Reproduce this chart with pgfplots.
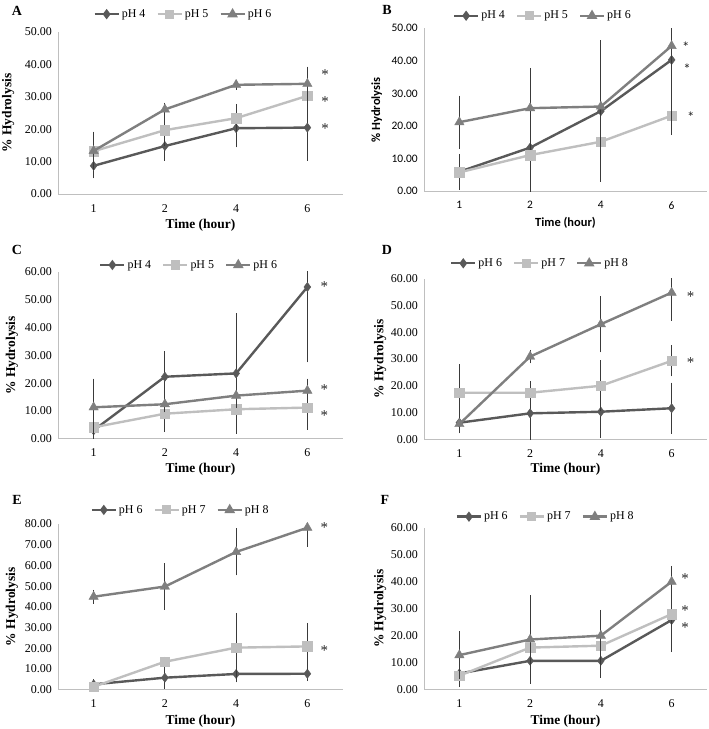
\documentclass[border=0pt]{standalone}
\usepackage{fontspec}
\setmainfont{Liberation Serif}
\newfontfamily\calibri{Carlito}
\usepackage{pgfplots}
\pgfplotsset{compat=1.18}
\definecolor{sA}{HTML}{595959}
\definecolor{sB}{HTML}{BFBFBF}
\definecolor{sC}{HTML}{7F7F7F}
\definecolor{axg}{HTML}{BFBFBF}
\definecolor{eb}{HTML}{3A3A3A}
\tikzset{astk/.style={font=\fontsize{15}{16}\selectfont, text=black!85, yshift=-3bp}}
\pgfplotsset{
 panel/.style={
  scale only axis, anchor=south west,
  xmin=-0.5, xmax=3.5, ymin=0,
  xtick={0,1,2,3}, xticklabels={1,2,4,6},
  axis x line=bottom, axis y line=left,
  axis line style={draw=axg, line width=0.8bp, -},
  major tick length=0pt, tick style={draw=none},
  /pgf/number format/assume math mode=true,
  yticklabel style={/pgf/number format/fixed, /pgf/number format/fixed zerofill, /pgf/number format/precision=2},
  yticklabel style={anchor=east, inner sep=0pt, xshift=-6bp},
  xticklabel style={anchor=north, inner sep=0pt, yshift=-10bp},
  tick label style={font=\fontsize{12}{14}\selectfont},
  label style={font=\bfseries\fontsize{13.5}{15}\selectfont},
  ylabel style={at={(axis description cs:-0.17,0.5)}, anchor=center},
  xlabel style={at={(axis description cs:0.5,-0.19)}, anchor=center},
  ylabel={\% Hydrolysis}, xlabel={Time (hour)},
  clip mode=individual,
  legend columns=3,
  legend cell align=left,
  legend style={draw=none, fill=none, font=\rmfamily\fontsize{12}{14}\selectfont, anchor=center, inner sep=0pt,
     /tikz/every even column/.append style={column sep=9bp}},
  legend image code/.code={\draw[##1, mark repeat=2, mark phase=2, mark options={scale=0.7}] plot coordinates {(0bp,0bp) (12bp,0bp) (24bp,0bp)};},
 },
 ebars/.style={error bars/.cd, y dir=both, y explicit,
   error bar style={line width=0.9bp, color=eb, solid},
   error mark options={line width=0.9bp, color=eb, mark size=3.2bp}},
 s1/.style={color=sA, line width=2.4bp, mark=diamond*, mark size=4.6bp, mark options={line width=0.4bp}, ebars},
 s2/.style={color=sB, line width=2.4bp, mark=square*, mark size=4.8bp, mark options={line width=0.4bp}, ebars},
 s3/.style={color=sC, line width=2.4bp, mark=triangle*, mark size=5.4bp, mark options={line width=0.4bp}, ebars},
}
\begin{document}
\begin{tikzpicture}
\useasboundingbox (0,0) rectangle (709bp,729bp);
\tikzset{plab/.style={font=\bfseries\fontsize{14}{16}\selectfont}}
\node[plab] at (17bp,718bp) {A};
\node[plab] at (387bp,719bp) {B};
\node[plab] at (17bp,479bp) {C};
\node[plab] at (387bp,479bp) {D};
\node[plab] at (17bp,229bp) {E};
\node[plab] at (385bp,229bp) {F};

% Panel A
\begin{axis}[panel, at={(58bp,535bp)}, width=285bp, height=162bp,
  ymax=50, ytick={0,10,...,50},
  ylabel style={at={(axis description cs:-0.175,0.5)}},
  legend style={at={(0.44,1.11)}}]
\addplot[s1] coordinates {(0,8.7)+-(0,2.9) (1,14.8)+-(0,3.6) (2,20.3)+-(0,4.9) (3,20.5)+-(0,9.3)};
\addplot[s2] coordinates {(0,13.2)+-(0,1.0) (1,19.7)+-(0,3.9) (2,23.4)+-(0,3.4) (3,30.3)+-(0,3.6)};
\addplot[s3] coordinates {(0,13.3)+-(0,5.0) (1,26.1)+-(0,1.1) (2,33.7)+-(0,0.5) (3,34.0)+-(0,4.3)};
\legend{pH 4,pH 5,pH 6}
\node[astk] at (axis cs:3.25,37.7) {*};
\node[astk] at (axis cs:3.25,29.3) {*};
\node[astk] at (axis cs:3.25,21.1) {*};
\end{axis}

% Panel B
\begin{axis}[panel, at={(424bp,537.7bp)}, width=283bp, height=163bp,
  ymax=50, ytick={0,10,...,50},
  tick label style={font=\calibri\fontsize{11.5}{13}\selectfont},
  label style={font=\calibri\bfseries\fontsize{12.5}{14}\selectfont},
  ylabel style={at={(axis description cs:-0.167,0.5)}},
  xlabel style={at={(axis description cs:0.5,-0.196)}},
  legend style={at={(0.42,1.077)}}]
\addplot[s1] coordinates {(0,6.0)+-(0,4.5) (1,13.4)+-(0,4.0) (2,24.6)+-(0,20.7) (3,40.3)+-(0,4.1)};
\addplot[s2] coordinates {(0,5.8)+-(0,4.0) (1,11.1)+-(0,10.2) (2,15.2)+-(0,1.8) (3,23.2)+-(0,5.0)};
\addplot[s3] coordinates {(0,21.2)+-(0,7.2) (1,25.5)+-(0,11.4) (2,26.0)+-(0,19.3) (3,44.6)+-(0,26.3)};
\legend{pH 4,pH 5,pH 6}
\node[astk, font=\calibri\fontsize{15}{16}\selectfont] at (axis cs:3.2,45.2) {*};
\node[astk, font=\calibri\fontsize{15}{16}\selectfont] at (axis cs:3.22,38.5) {*};
\node[astk, font=\calibri\fontsize{15}{16}\selectfont] at (axis cs:3.27,23.7) {*};
\end{axis}

% Panel C
\begin{axis}[panel, at={(58bp,290.3bp)}, width=285bp, height=166.7bp,
  ymax=60, ytick={0,10,...,60},
  ylabel style={at={(axis description cs:-0.162,0.5)}},
  xlabel style={at={(axis description cs:0.5,-0.184)}},
  legend style={at={(0.46,1.042)}}]
\addplot[s1] coordinates {(0,3.0)+-(0,2.5) (1,22.3)+-(0,8.0) (2,23.5)+-(0,20.5) (3,54.6)+-(0,26.0)};
\addplot[s2] coordinates {(0,4.1)+-(0,1.5) (1,9.0)+-(0,5.5) (2,10.6)+-(0,1.0) (3,11.2)+-(0,6.9)};
\addplot[s3] coordinates {(0,11.3)+-(0,9.2) (1,12.4)+-(0,1.8) (2,15.5)+-(0,3.2) (3,17.3)+-(0,3.2)};
\legend{pH 4,pH 5,pH 6}
\node[astk] at (axis cs:3.24,55.7) {*};
\node[astk] at (axis cs:3.24,18.7) {*};
\node[astk] at (axis cs:3.24,9.5) {*};
\end{axis}

% Panel D
\begin{axis}[panel, at={(424bp,289.7bp)}, width=283bp, height=160.6bp,
  ymax=60, ytick={0,10,...,60},
  ylabel style={at={(axis description cs:-0.155,0.5)}},
  xlabel style={at={(axis description cs:0.5,-0.187)}},
  legend style={at={(0.41,1.096)}}]
\addplot[s1] coordinates {(0,6.2)+-(0,2.8) (1,9.7)+-(0,10.8) (2,10.3)+-(0,8.6) (3,11.6)+-(0,8.4)};
\addplot[s2] coordinates {(0,17.4)+-(0,9.4) (1,17.4)+-(0,2.5) (2,20.0)+-(0,8.3) (3,29.3)+-(0,4.6)};
\addplot[s3] coordinates {(0,5.7)+-(0,1.5) (1,30.9)+-(0,1.3) (2,43.0)+-(0,9.3) (3,54.8)+-(0,9.3)};
\legend{pH 6,pH 7,pH 8}
\node[astk] at (axis cs:3.27,54.5) {*};
\node[astk] at (axis cs:3.27,29.9) {*};
\end{axis}

% Panel E
\begin{axis}[panel, at={(58bp,39.3bp)}, width=285bp, height=165.7bp,
  ymax=80, ytick={0,10,...,80},
  ylabel style={at={(axis description cs:-0.162,0.5)}},
  xlabel style={at={(axis description cs:0.5,-0.189)}},
  legend style={at={(0.43,1.085)}}]
\addplot[s1] coordinates {(0,2.6)+-(0,1.0) (1,5.8)+-(0,3.8) (2,7.6)+-(0,2.0) (3,7.7)+-(0,2.0)};
\addplot[s2] coordinates {(0,1.4)+-(0,0.5) (1,13.5)+-(0,0.8) (2,20.3)+-(0,15.2) (3,20.9)+-(0,9.8)};
\addplot[s3] coordinates {(0,44.9)+-(0,1.8) (1,49.8)+-(0,9.6) (2,66.5)+-(0,9.8) (3,78.2)+-(0,7.7)};
\legend{pH 6,pH 7,pH 8}
\node[astk] at (axis cs:3.24,79.5) {*};
\node[astk] at (axis cs:3.24,20.4) {*};
\end{axis}

% Panel F
\begin{axis}[panel, at={(424bp,39.3bp)}, width=283bp, height=162bp,
  ymax=60, ytick={0,10,...,60},
  ylabel style={at={(axis description cs:-0.155,0.5)}},
  xlabel style={at={(axis description cs:0.5,-0.193)}},
  legend style={at={(0.43,1.068)}}]
\addplot[s1] coordinates {(0,6.0)+-(0,2.2) (1,10.7)+-(0,5.6) (2,10.7)+-(0,5.0) (3,25.8)+-(0,10.7)};
\addplot[s2] coordinates {(0,5.2)+-(0,3.1) (1,15.6)+-(0,11.2) (2,16.3)+-(0,7.0) (3,28.0)+-(0,4.8)};
\addplot[s3] coordinates {(0,12.8)+-(0,7.6) (1,18.6)+-(0,15.2) (2,20.0)+-(0,8.4) (3,40.0)+-(0,4.7)};
\legend{pH 6,pH 7,pH 8}
\node[astk] at (axis cs:3.19,42.2) {*};
\node[astk] at (axis cs:3.19,30.5) {*};
\node[astk] at (axis cs:3.19,24.0) {*};
\end{axis}
\end{tikzpicture}
\end{document}
